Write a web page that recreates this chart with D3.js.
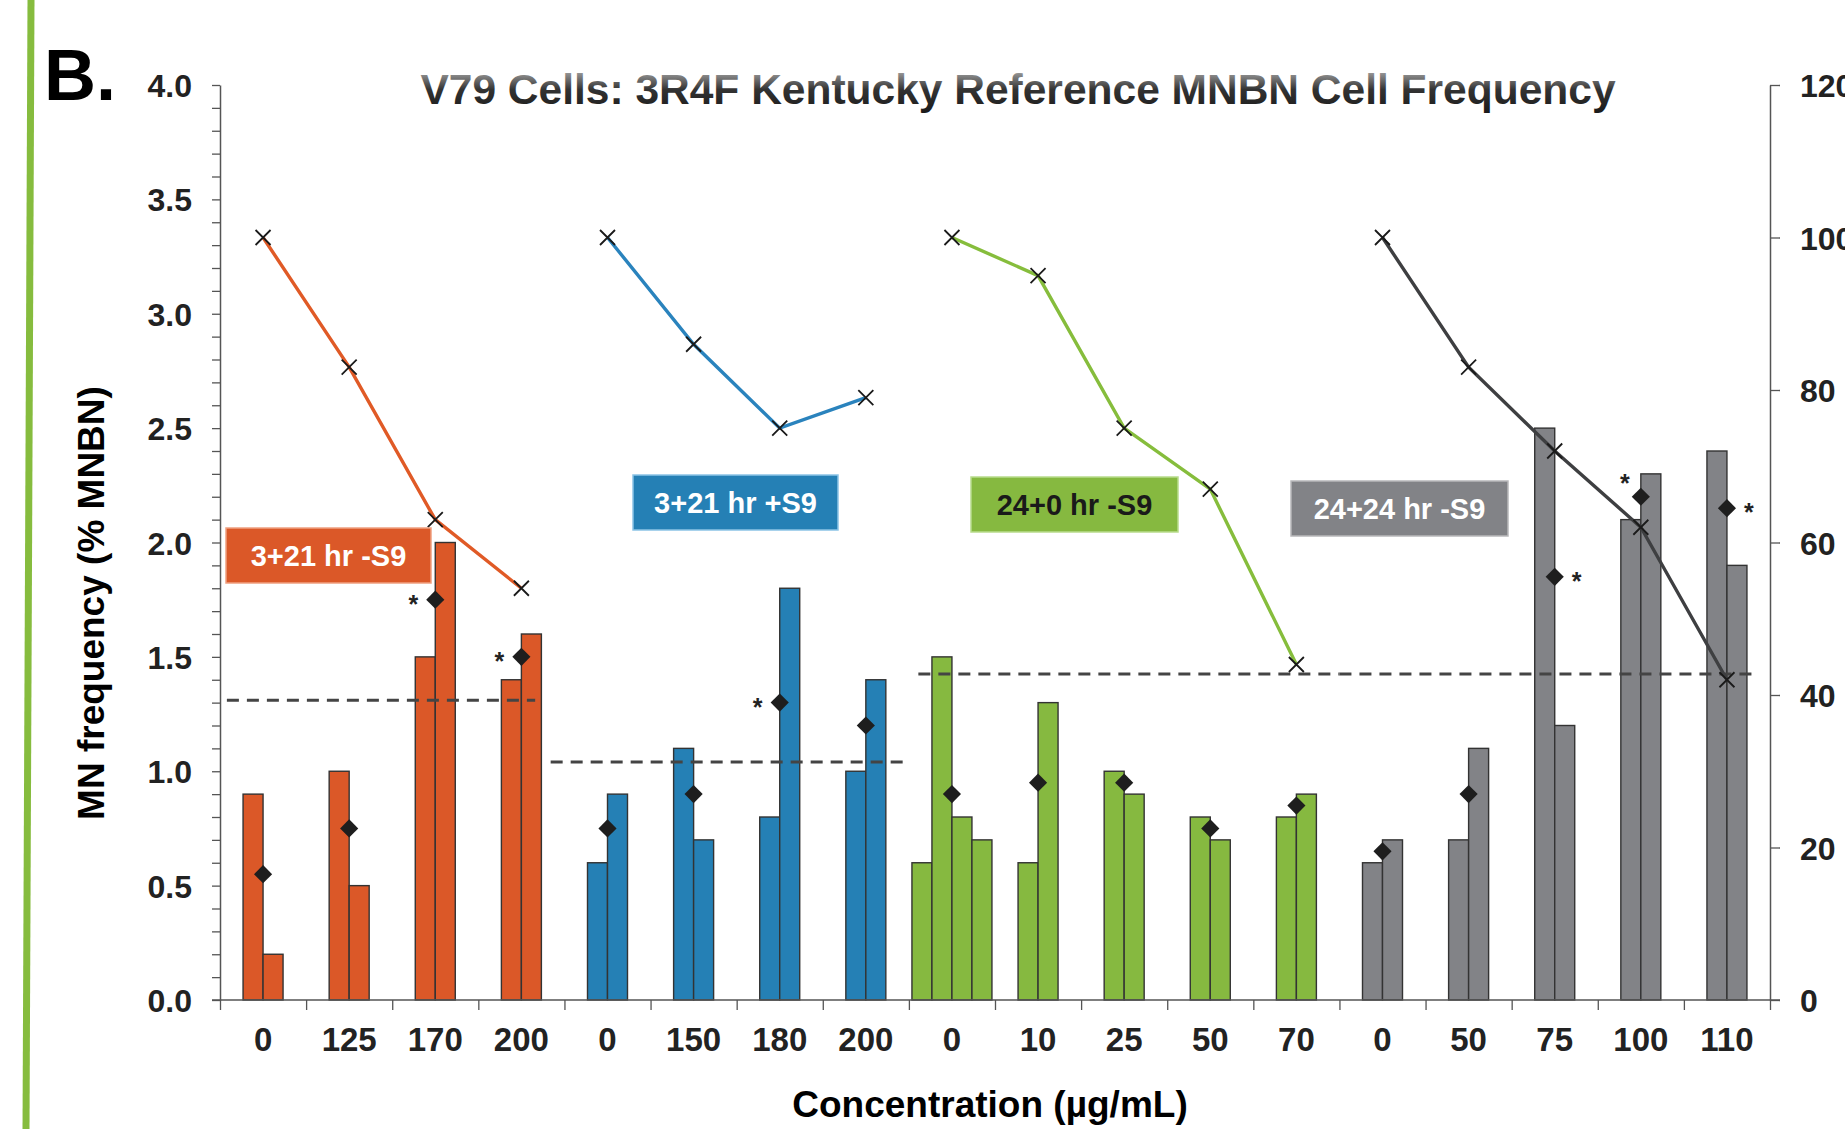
<!doctype html>
<html>
  <head>
    <meta charset="utf-8">
    <title>V79 Cells: 3R4F Kentucky Reference MNBN Cell Frequency</title>
    <style>
      body { margin: 0; background: #fff; }
      svg text { font-family: "Liberation Sans", Arial, sans-serif; font-weight: bold; }
    </style>
    <script src="https://cdnjs.cloudflare.com/ajax/libs/d3/7.8.5/d3.min.js"></script>
  </head>
  <body>
    <div id="chart"></div>
    <script>
      // treatment groups
      const groups = ["3+21 hr -S9", "3+21 hr +S9", "24+0 hr -S9", "24+24 hr -S9"];
      // concentrations (ug/mL), one per x category
      const concLabels = ["0", "125", "170", "200", "0", "150", "180", "200", "0", "10", "25", "50", "70", "0", "50", "75", "100", "110"];
      const groupOf = [0, 0, 0, 0, 1, 1, 1, 1, 2, 2, 2, 2, 2, 3, 3, 3, 3, 3];
      // % MNBN per replicate culture
      const replicates = [
        [0.9, 0.2], [1.0, 0.5], [1.5, 2.0], [1.4, 1.6],
        [0.6, 0.9], [1.1, 0.7], [0.8, 1.8], [1.0, 1.4],
        [0.6, 1.5, 0.8, 0.7], [0.6, 1.3], [1.0, 0.9], [0.8, 0.7], [0.8, 0.9],
        [0.6, 0.7], [0.7, 1.1], [2.5, 1.2], [2.1, 2.3], [2.4, 1.9]
      ];
      // mean % MNBN (diamonds)
      const means = [0.55, 0.75, 1.75, 1.5, 0.75, 0.9, 1.3, 1.2, 0.9, 0.95, 0.95, 0.75, 0.85, 0.65, 0.9, 1.85, 2.2, 2.15];
      // significance star next to the mean: L = left, R = right, UL = upper left
      const signif = ["", "", "L", "L", "", "", "L", "", "", "", "", "", "", "", "", "R", "UL", "R"];
      // cytotoxicity line, right axis
      const rightVals = [100, 83, 63, 54, 100, 86, 75, 79, 100, 95, 75, 67, 44, 100, 83, 72, 62, 42];
      // historical control limits (dashed), extent in category units
      const limitVals = [1.31, 1.04, 1.425, 1.425];
      const limitFrom = [0.08, 3.84, 8.11, 13.0];
      const limitTo = [3.66, 8.01, 13.0, 17.85];
      const leftTicks = [0, 0.5, 1, 1.5, 2, 2.5, 3, 3.5, 4];
      const rightTicks = [0, 20, 40, 60, 80, 100, 120];

      const barColors = ["#db5828", "#2580b5", "#86b940", "#828387"];
      const lineColors = ["#e05a26", "#2a83bd", "#86bd3c", "#3e3f41"];
      const boxText = ["#fff", "#fff", "#1a1a1a", "#fff"];
      const boxEdge = ["#f0a080", "#8cc4e6", "#b8dc8c", "#b8b8ba"];
      const boxes = [[226, 528, 205, 55], [633, 475, 205, 55], [971, 477, 207, 55], [1291, 481, 217, 55]];

      const W = 1845, H = 1129;
      const X0 = 220, X1 = 1770, Y0 = 1000, Y1 = 85;
      const barW = 20;

      const svg = d3.select("#chart").append("svg")
        .attr("width", W).attr("height", H);

      const defs = svg.append("defs");
      const grad = defs.append("linearGradient")
        .attr("id", "titleGrad").attr("x1", 0).attr("y1", 0).attr("x2", 0).attr("y2", 1);
      grad.append("stop").attr("offset", "0%").attr("stop-color", "#bdbdbd");
      grad.append("stop").attr("offset", "50%").attr("stop-color", "#333");
      grad.append("stop").attr("offset", "100%").attr("stop-color", "#1a1a1a");

      // green margin bar on the left
      svg.append("line")
        .attr("x1", 31).attr("y1", 0).attr("x2", 26).attr("y2", H)
        .attr("stroke", "#86bc3e").attr("stroke-width", 7);

      const x = d3.scaleBand().domain(d3.range(concLabels.length)).range([X0, X1]);
      const xi = d3.scaleLinear().domain([0, concLabels.length]).range([X0, X1]);
      const y = d3.scaleLinear().domain([0, 4]).range([Y0, Y1]);
      const y2 = d3.scaleLinear().domain([0, 120]).range([Y0, Y1]);
      const cx = i => x(i) + x.bandwidth() / 2;

      // bars
      const barData = [];
      replicates.forEach((vals, i) => vals.forEach((v, j) => barData.push({ i, j, n: vals.length, v })));
      svg.append("g").selectAll("rect")
        .data(barData)
        .join("rect")
        .attr("x", d => cx(d.i) - d.n * barW / 2 + d.j * barW)
        .attr("y", d => y(d.v))
        .attr("width", barW)
        .attr("height", d => Y0 - y(d.v))
        .attr("fill", d => barColors[groupOf[d.i]])
        .attr("stroke", "#333")
        .attr("stroke-width", 1.4);

      // left axis
      const gy = svg.append("g").attr("transform", `translate(${X0},0)`)
        .call(d3.axisLeft(y).tickValues(d3.range(0, 41).map(k => k / 10))
          .tickSize(8).tickSizeOuter(0).tickPadding(20)
          .tickFormat(d => leftTicks.some(t => Math.abs(t - d) < 1e-6) ? d3.format(".1f")(d) : ""));
      gy.select(".domain").attr("stroke", "#555").attr("stroke-width", 1.5);
      gy.selectAll(".tick line").attr("stroke", "#555").attr("stroke-width", 1.3);
      gy.selectAll(".tick text").attr("font-size", 32).attr("fill", "#222").attr("dy", "0.36em");

      // right axis
      const gr = svg.append("g").attr("transform", `translate(${X1},0)`)
        .call(d3.axisRight(y2).tickValues(rightTicks).tickSize(10).tickSizeOuter(0).tickPadding(20));
      gr.select(".domain").attr("stroke", "#555").attr("stroke-width", 1.5);
      gr.selectAll(".tick line").attr("stroke", "#555").attr("stroke-width", 1.3);
      gr.selectAll(".tick text").attr("font-size", 32).attr("fill", "#222").attr("dy", "0.36em");

      // bottom axis: boundary ticks and labels
      const gt = svg.append("g").attr("transform", `translate(0,${Y0})`)
        .call(d3.axisBottom(xi).tickValues(d3.range(concLabels.length + 1)).tickSize(10).tickSizeOuter(0).tickFormat(""));
      gt.select(".domain").remove();
      gt.selectAll(".tick line").attr("stroke", "#555").attr("stroke-width", 1.3);
      svg.append("line").attr("x1", X0 - 8).attr("x2", X1 + 10).attr("y1", Y0).attr("y2", Y0)
        .attr("stroke", "#555").attr("stroke-width", 1.5);
      const gx = svg.append("g").attr("transform", `translate(0,${Y0})`)
        .call(d3.axisBottom(x).tickSize(0).tickPadding(28).tickFormat(i => concLabels[i]));
      gx.select(".domain").remove();
      gx.selectAll(".tick text").attr("font-size", 33).attr("fill", "#222");

      // control limits
      svg.append("g").selectAll("line")
        .data(limitVals)
        .join("line")
        .attr("x1", (d, k) => xi(limitFrom[k]))
        .attr("x2", (d, k) => xi(limitTo[k]))
        .attr("y1", d => y(d)).attr("y2", d => y(d))
        .attr("stroke", "#444").attr("stroke-width", 3)
        .attr("stroke-dasharray", "12,8");

      // cytotoxicity lines per group
      const line = d3.line().x(i => cx(i)).y(i => y2(rightVals[i]));
      groups.forEach((g, k) => {
        const idx = d3.range(concLabels.length).filter(i => groupOf[i] === k);
        svg.append("path").datum(idx)
          .attr("d", line)
          .attr("fill", "none")
          .attr("stroke", lineColors[k])
          .attr("stroke-width", 3.4);
      });
      svg.append("g").selectAll("path")
        .data(d3.range(concLabels.length))
        .join("path")
        .attr("transform", i => `translate(${cx(i)},${y2(rightVals[i])})`)
        .attr("d", "M-7.5,-7.5L7.5,7.5M-7.5,7.5L7.5,-7.5")
        .attr("stroke", "#1a1a1a").attr("stroke-width", 1.8).attr("fill", "none");

      // means
      svg.append("g").selectAll("path")
        .data(d3.range(concLabels.length))
        .join("path")
        .attr("transform", i => `translate(${cx(i)},${y(means[i])}) rotate(45)`)
        .attr("d", d3.symbol(d3.symbolSquare, 165))
        .attr("fill", "#1e1e1e");

      const starOff = { L: [-22, 0], R: [22, 0], UL: [-16, -18] };
      svg.append("g").selectAll("text")
        .data(d3.range(concLabels.length).filter(i => signif[i]))
        .join("text")
        .attr("x", i => cx(i) + starOff[signif[i]][0])
        .attr("y", i => y(means[i]) + starOff[signif[i]][1] + 13)
        .attr("text-anchor", "middle")
        .attr("font-size", 25)
        .attr("fill", "#222")
        .text("*");

      // group labels
      const gb = svg.append("g").selectAll("g")
        .data(groups)
        .join("g")
        .attr("transform", (d, k) => `translate(${boxes[k][0]},${boxes[k][1]})`);
      gb.append("rect")
        .attr("width", (d, k) => boxes[k][2])
        .attr("height", (d, k) => boxes[k][3])
        .attr("fill", (d, k) => barColors[k])
        .attr("stroke", (d, k) => boxEdge[k])
        .attr("stroke-width", 1.5);
      gb.append("text")
        .attr("x", (d, k) => boxes[k][2] / 2)
        .attr("y", (d, k) => boxes[k][3] / 2 + 10)
        .attr("text-anchor", "middle")
        .attr("font-size", 29)
        .attr("fill", (d, k) => boxText[k])
        .text(d => d);

      // titles
      svg.append("text")
        .attr("x", 1018).attr("y", 104)
        .attr("text-anchor", "middle")
        .attr("font-size", 42.5)
        .attr("fill", "url(#titleGrad)")
        .text("V79 Cells: 3R4F Kentucky Reference MNBN Cell Frequency");

      svg.append("text")
        .attr("x", 44).attr("y", 100)
        .attr("font-size", 72)
        .attr("fill", "#000")
        .text("B.");

      svg.append("text")
        .attr("transform", "translate(104,603) rotate(-90)")
        .attr("text-anchor", "middle")
        .attr("font-size", 37)
        .attr("fill", "#000")
        .text("MN frequency (% MNBN)");

      svg.append("text")
        .attr("x", 990).attr("y", 1117)
        .attr("text-anchor", "middle")
        .attr("font-size", 37)
        .attr("fill", "#000")
        .text("Concentration (µg/mL)");
    </script>
  </body>
</html>
